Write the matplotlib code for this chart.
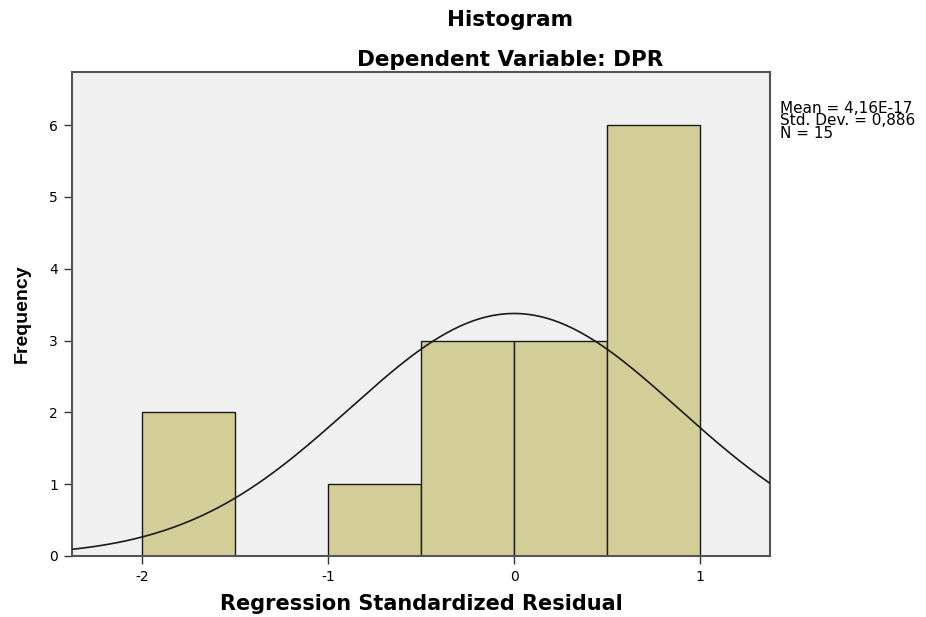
import numpy as np
import matplotlib.pyplot as plt

# histogram of regression standardized residuals
bin_left = [-2.0, -1.0, -0.5, 0.0, 0.5]
bin_width = 0.5
counts = [2, 1, 3, 3, 6]

mean = 4.16e-17
std = 0.886
n = 15

plt.rcParams['font.family'] = ['DejaVu Sans']
plt.rcParams['axes.unicode_minus'] = False

fig = plt.figure(figsize=(9.26, 6.17), dpi=100)
ax = fig.add_axes([0.0778, 0.0989, 0.7538, 0.7844])
ax.set_facecolor('#f0f0f0')

ax.bar(bin_left, counts, width=bin_width, align='edge',
       color='#d3ce98', edgecolor='#1a1a1a', linewidth=1.0, zorder=2)

# normal curve scaled to the histogram
xs = np.linspace(-2.376, 1.376, 300)
ys = n * bin_width / (std * np.sqrt(2 * np.pi)) * np.exp(-0.5 * ((xs - mean) / std) ** 2)
ax.plot(xs, ys, color='#1a1a1a', linewidth=1.2, zorder=3)

ax.set_xlim(-2.376, 1.376)
ax.set_ylim(0, 6.74)
ax.set_xticks([-2, -1, 0, 1])
ax.set_yticks(range(0, 7))
ax.tick_params(direction='out', length=6, width=1, color='#333333',
               labelsize=10, pad=4)
for s in ax.spines.values():
    s.set_color('#555555')
    s.set_linewidth(1.5)

ax.set_xlabel('Regression Standardized Residual', fontsize=15, fontweight='bold', labelpad=7)
ax.set_ylabel('Frequency', fontsize=14, fontweight='bold', labelpad=13,
              family='Liberation Sans')

fig.text(0.5508, 0.967, 'Histogram', ha='center', va='center', fontsize=15.5, fontweight='bold')
fig.text(0.5508, 0.902, 'Dependent Variable: DPR', ha='center', va='center',
         fontsize=15.5, fontweight='bold')

fig.text(0.842, 0.837, 'Mean = 4,16E-17\nStd. Dev. = 0,886\nN = 15',
         ha='left', va='top', fontsize=11, linespacing=0.8)

fig.savefig('out.png', dpi=100)
